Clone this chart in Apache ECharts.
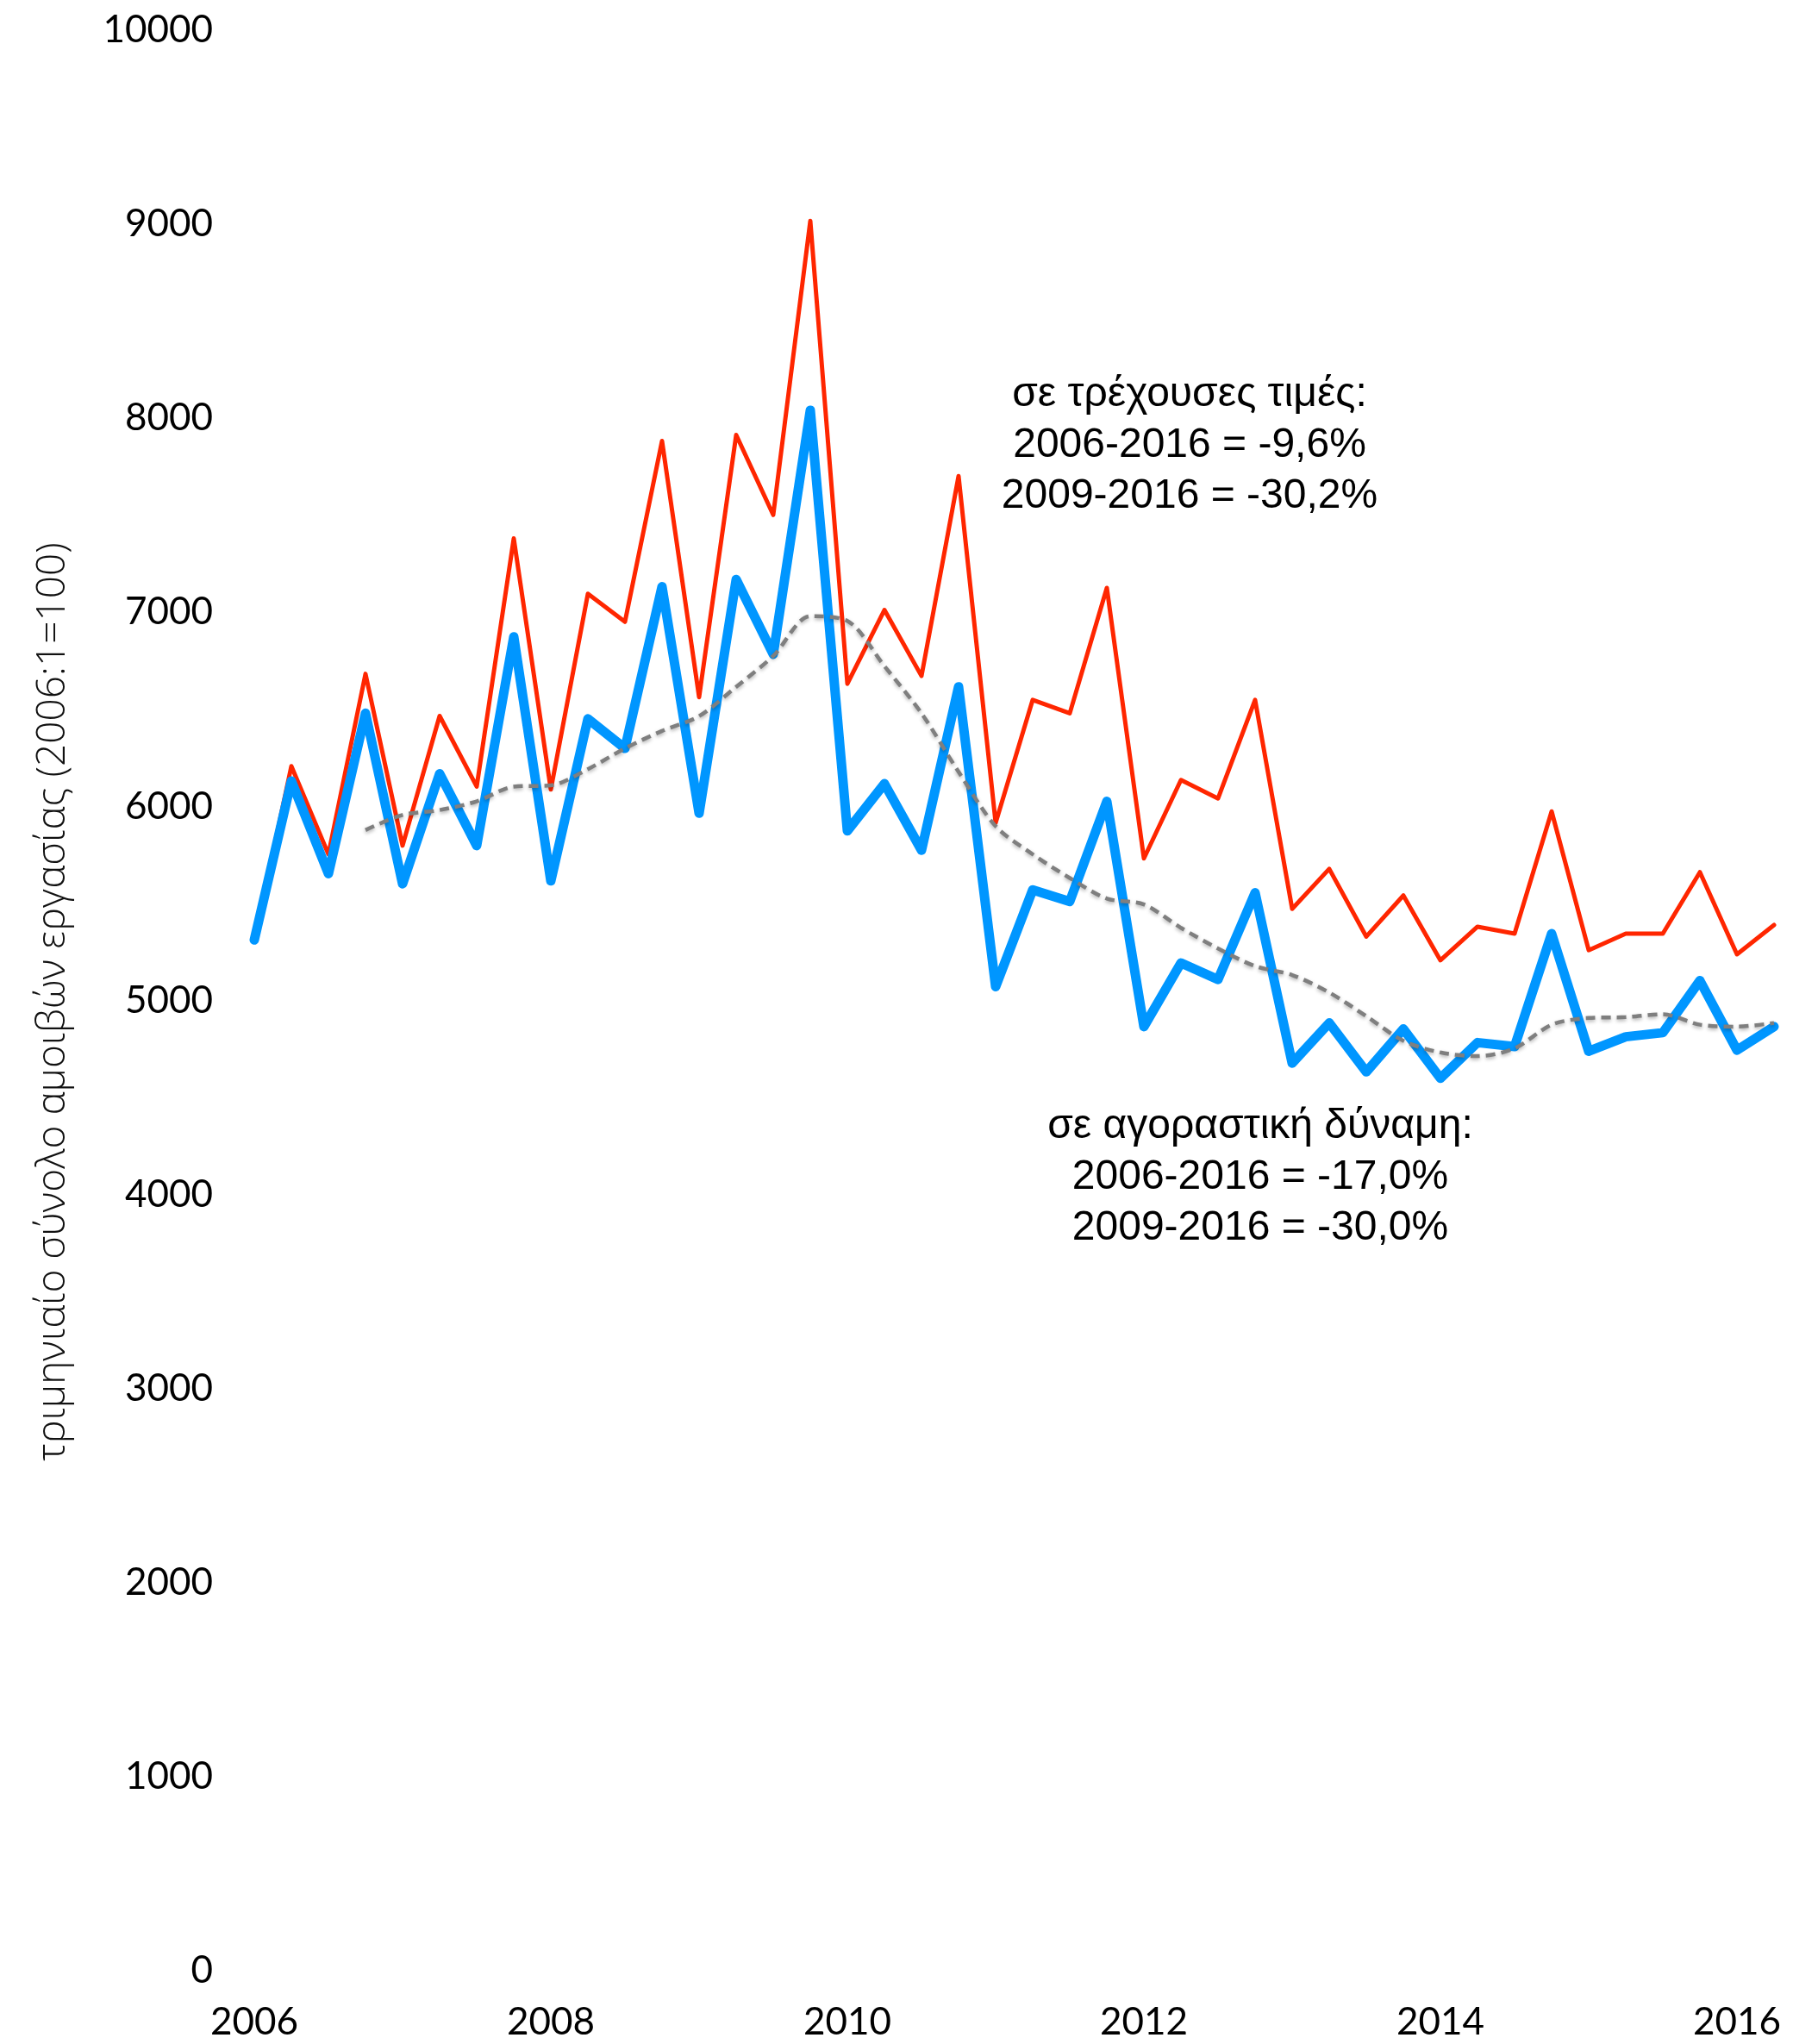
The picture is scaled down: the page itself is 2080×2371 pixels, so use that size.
<!DOCTYPE html>
<html>
<head>
<meta charset="utf-8">
<script src="https://cdn.jsdelivr.net/npm/echarts@6/dist/echarts.min.js"></script>
<style>
html,body{margin:0;padding:0;background:#fff;}
#chart{width:2080px;height:2371px;}
</style>
</head>
<body>
<div id="chart"></div>
<script>
// Quarters 2006:1 ... 2016:2
const quarters = [
  '2006:1','2006:2','2006:3','2006:4','2007:1','2007:2','2007:3','2007:4',
  '2008:1','2008:2','2008:3','2008:4','2009:1','2009:2','2009:3','2009:4',
  '2010:1','2010:2','2010:3','2010:4','2011:1','2011:2','2011:3','2011:4',
  '2012:1','2012:2','2012:3','2012:4','2013:1','2013:2','2013:3','2013:4',
  '2014:1','2014:2','2014:3','2014:4','2015:1','2015:2','2015:3','2015:4',
  '2016:1','2016:2'
];
// current prices (red)
const nominal = [
  5312, 6207, 5753, 6683, 5798, 6466, 6102, 7381,
  6087, 7096, 6951, 7883, 6563, 7914, 7502, 9017,
  6632, 7012, 6672, 7702, 5915, 6549, 6480, 7126,
  5732, 6136, 6041, 6549, 5472, 5678, 5329, 5541,
  5207, 5380, 5344, 5974, 5259, 5344, 5344, 5661,
  5238, 5389
];
// purchasing power (blue)
const real = [
  5312, 6131, 5653, 6480, 5601, 6168, 5798, 6874,
  5616, 6451, 6299, 7132, 5965, 7169, 6784, 8041,
  5874, 6117, 5774, 6616, 5071, 5570, 5510, 6026,
  4865, 5193, 5108, 5555, 4677, 4884, 4632, 4853,
  4599, 4783, 4762, 5344, 4738, 4813, 4834, 5102,
  4744, 4865
];
// trend of purchasing power (grey dashed)
const trend = [
  null, null, null, 5878, 5956, 5981, 6026, 6102,
  6108, 6192, 6299, 6389, 6465, 6616, 6775, 6980,
  6956, 6723, 6480, 6178, 5898, 5753, 5631, 5525,
  5495, 5374, 5268, 5177, 5131, 5041, 4919, 4792,
  4732, 4713, 4753, 4875, 4910, 4914, 4929, 4875,
  4865, 4884
];
const yTicks = { min: 0, max: 10000, interval: 1000 };
const yTitle = 'τριμηνιαίο σύνολο αμοιβών εργασίας (2006:1=100)';
const note1 = 'σε τρέχουσες τιμές:\n2006-2016 = -9,6%\n2009-2016 = -30,2%';
const note2 = 'σε αγοραστική δύναμη:\n2006-2016 = -17,0%\n2009-2016 = -30,0%';

const chart = echarts.init(document.getElementById('chart'), null, {renderer: 'canvas'});
const tickFont = 'Lato';
const noteFont = '"Liberation Sans", Arial, sans-serif';

chart.setOption({
  animation: false,
  backgroundColor: '#ffffff',
  grid: { left: 295, right: 22, top: 35, bottom: 85, containLabel: false },
  xAxis: {
    type: 'category',
    data: quarters,
    boundaryGap: false,
    axisLine: { show: false },
    axisTick: { show: false },
    splitLine: { show: false },
    axisLabel: {
      interval: (idx) => idx % 8 === 0,
      formatter: (v) => v.split(':')[0],
      fontFamily: tickFont,
      fontSize: 44,
      color: '#000',
      margin: 38
    }
  },
  yAxis: {
    type: 'value',
    min: yTicks.min, max: yTicks.max, interval: yTicks.interval,
    axisLine: { show: false },
    axisTick: { show: false },
    splitLine: { show: false },
    axisLabel: { fontFamily: tickFont, fontSize: 44, color: '#000', margin: 48,
      formatter: (v) => String(v) }
  },
  series: [
    {
      type: 'line', name: 'nominal', data: nominal, symbol: 'none', z: 2,
      lineStyle: { color: '#ff2600', width: 5, join: 'round', cap: 'round' }
    },
    {
      type: 'line', name: 'real', data: real, symbol: 'none', z: 3,
      lineStyle: { color: '#0096ff', width: 11, join: 'round', cap: 'round' }
    },
    {
      type: 'line', name: 'trend', data: trend, symbol: 'none', z: 4, smooth: 0.3,
      connectNulls: false,
      lineStyle: { color: '#7f7f7f', width: 4.5, type: [11, 7],
        shadowColor: 'rgba(0,0,0,0.3)', shadowBlur: 4, shadowOffsetY: 2 }
    }
  ],
  graphic: [
    {
      type: 'text', x: 62, y: 1162, rotation: Math.PI / 2,
      style: { text: yTitle, fill: '#111', font: '300 46px "Open Sans", ' + noteFont,
        textAlign: 'center', textVerticalAlign: 'middle' }
    },
    {
      type: 'text', x: 1380, y: 517,
      style: { text: note1, fill: '#000', font: '48px ' + noteFont, lineHeight: 59,
        textAlign: 'center', textVerticalAlign: 'middle' }
    },
    {
      type: 'text', x: 1462, y: 1366,
      style: { text: note2, fill: '#000', font: '48px ' + noteFont, lineHeight: 59,
        textAlign: 'center', textVerticalAlign: 'middle' }
    }
  ]
});
</script>
</body>
</html>
